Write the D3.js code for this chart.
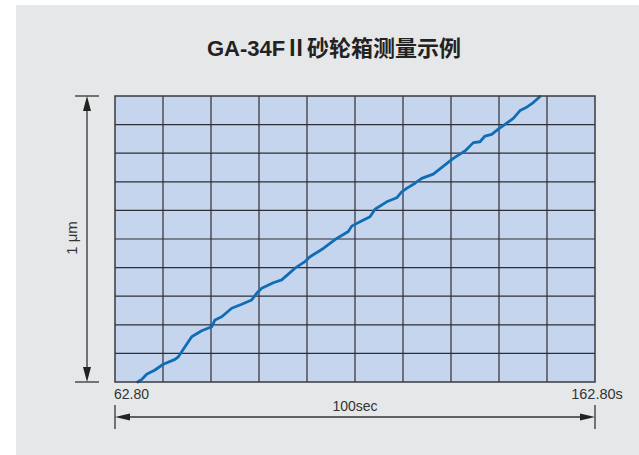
<!DOCTYPE html>
<html><head><meta charset="utf-8">
<script src="https://cdn.jsdelivr.net/npm/d3@7"></script>
<style>
html,body{margin:0;padding:0;background:#fff;}
svg{display:block;}
</style></head>
<body>
<svg id="chart" width="639" height="455"></svg>
<script>
// ---- data ----
const title = "GA-34FⅡ砂轮箱测量示例";
const timeSec = [67.53,68.36,69.40,71.13,72.86,75.30,75.99,76.70,77.38,78.78,80.86,82.95,83.63,85.03,87.11,89.20,91.28,92.32,93.36,95.78,97.53,98.90,100.30,102.38,103.43,106.20,108.99,111.41,112.11,113.84,115.93,116.97,119.40,121.49,122.53,123.57,125.30,126.70,129.11,131.55,133.28,135.72,137.45,138.84,139.88,141.28,142.65,144.40,145.78,147.18,148.57,149.95,151.34];
const valueUm = [0.000,0.009,0.027,0.042,0.062,0.079,0.088,0.106,0.123,0.158,0.179,0.193,0.217,0.228,0.258,0.272,0.287,0.310,0.328,0.347,0.357,0.377,0.398,0.421,0.438,0.467,0.502,0.526,0.545,0.560,0.578,0.604,0.630,0.644,0.665,0.677,0.695,0.712,0.727,0.759,0.782,0.808,0.837,0.840,0.860,0.866,0.884,0.905,0.922,0.949,0.961,0.977,0.998];
const xDomain = [62.80, 162.80];
const yDomain = [0, 1];
const xGridStep = 10;      // seconds per column
const yGridStep = 0.1;     // µm per row
const xStartLabel = "62.80";
const xEndLabel = "162.80s";
const spanLabel = "100sec";
const yLabel = "1 μm";

// ---- layout ----
const svg = d3.select("#chart");
const W = 639, H = 455;
const plot = {left:115, right:595, top:96, bottom:382};

svg.append("rect").attr("x",16).attr("y",5).attr("width",W-16).attr("height",H-5).attr("fill","#e6e7e8");

svg.append("text").attr("x",334).attr("y",56).attr("text-anchor","middle")
  .attr("font-family","'Liberation Sans','Noto Sans CJK SC',sans-serif")
  .attr("font-weight","bold").attr("font-size",22).attr("fill","#222").text(title);

const x = d3.scaleLinear().domain(xDomain).range([plot.left, plot.right]);
const y = d3.scaleLinear().domain(yDomain).range([plot.bottom, plot.top]);

svg.append("rect").attr("x",plot.left).attr("y",plot.top)
  .attr("width",plot.right-plot.left).attr("height",plot.bottom-plot.top)
  .attr("fill","#c6d5ee");

const xTicks = d3.range(xDomain[0], xDomain[1]+0.001, xGridStep);
const yTicks = d3.range(yDomain[0], yDomain[1]+0.0001, yGridStep);

const grid = svg.append("g").attr("stroke","#2e2e33").attr("stroke-width",1.2);
grid.selectAll("line.v").data(xTicks.slice(1,-1)).join("line")
  .attr("x1",d=>x(d)).attr("x2",d=>x(d)).attr("y1",plot.top).attr("y2",plot.bottom);
grid.selectAll("line.h").data(yTicks.slice(1,-1)).join("line")
  .attr("y1",d=>y(d)).attr("y2",d=>y(d)).attr("x1",plot.left).attr("x2",plot.right);

const line = d3.line().x((d,i)=>x(timeSec[i])).y((d,i)=>y(valueUm[i]));
svg.append("path").datum(valueUm).attr("d",line).attr("fill","none")
  .attr("stroke","#0f6db6").attr("stroke-width",2.8).attr("stroke-linejoin","round").attr("stroke-linecap","round");

svg.append("rect").attr("x",plot.left).attr("y",plot.top)
  .attr("width",plot.right-plot.left).attr("height",plot.bottom-plot.top)
  .attr("fill","none").attr("stroke","#3a3a40").attr("stroke-width",1.5);

// ---- dimension arrows ----
const ax = 87;
svg.append("line").attr("x1",ax).attr("x2",ax).attr("y1",y(1)+12).attr("y2",y(0)-12).attr("stroke","#555").attr("stroke-width",1.6);
[[y(1),1],[y(0),-1]].forEach(([yy,dir])=>{
  svg.append("line").attr("x1",75).attr("x2",99).attr("y1",yy).attr("y2",yy).attr("stroke","#333").attr("stroke-width",1.3);
  svg.append("path").attr("d",`M${ax},${yy} L${ax-4},${yy+dir*15} L${ax+4},${yy+dir*15}Z`).attr("fill","#222");
});
svg.append("text").attr("transform",`translate(77,238) rotate(-90)`).attr("text-anchor","middle")
  .attr("font-family","'Liberation Sans',sans-serif").attr("font-size",15).attr("fill","#333").text(yLabel);

const ay = 417;
svg.append("line").attr("x1",x(xDomain[0])+12).attr("x2",x(xDomain[1])-12).attr("y1",ay).attr("y2",ay).attr("stroke","#333").attr("stroke-width",1.3);
[[x(xDomain[0]),1],[x(xDomain[1]),-1]].forEach(([xx,dir])=>{
  svg.append("line").attr("x1",xx).attr("x2",xx).attr("y1",405).attr("y2",429).attr("stroke","#333").attr("stroke-width",1.3);
  svg.append("path").attr("d",`M${xx},${ay} L${xx+dir*15},${ay-3.5} L${xx+dir*15},${ay+3.5}Z`).attr("fill","#222");
});
const lblFont = "'Liberation Sans',sans-serif";
svg.append("text").attr("x",x(xDomain[0])-1).attr("y",399).attr("font-family",lblFont).attr("font-size",14).attr("fill","#333").text(xStartLabel);
svg.append("text").attr("x",x(xDomain[1])+2).attr("y",399).attr("text-anchor","middle").attr("font-family",lblFont).attr("font-size",14.5).attr("fill","#333").text(xEndLabel);
svg.append("text").attr("x",(x(xDomain[0])+x(xDomain[1]))/2).attr("y",411).attr("text-anchor","middle").attr("font-family",lblFont).attr("font-size",14).attr("fill","#333").text(spanLabel);
</script>
</body></html>
